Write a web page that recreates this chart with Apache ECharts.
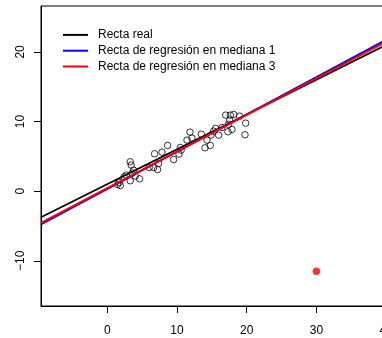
<!DOCTYPE html>
<html>
<head>
<meta charset="utf-8">
<script src="https://cdn.jsdelivr.net/npm/echarts@6/dist/echarts.min.js"></script>
<style>html,body{margin:0;padding:0;background:#fff;overflow:hidden;width:382px;height:338px;}#c{width:414px;height:338px;}</style>
</head>
<body>
<div id="c"></div>
<script>
// observed sample points
var xs = [1.48,1.87,1.72,2.73,2.44,3.30,3.44,3.30,3.78,4.02,4.64,6.03,6.79,6.65,7.22,7.37,7.85,8.66,9.52,10.29,10.48,11.44,11.87,12.15,13.49,14.02,14.31,14.78,14.88,15.26,15.55,15.98,16.46,16.99,17.32,17.66,17.56,17.89,18.13,18.99,19.86,19.76,17.40,10.60,3.60];
var ys = [0.96,0.81,1.25,2.30,2.06,4.22,3.74,1.49,3.02,2.16,1.77,3.40,5.37,3.40,3.11,3.98,5.61,6.56,4.55,5.32,6.28,7.33,8.48,7.62,8.19,6.23,7.33,6.56,8.05,8.62,9.01,8.05,9.15,10.92,8.53,10.92,10.21,8.86,11.02,10.78,9.77,8.10,9.60,5.90,2.60];
// outlier
var outX = [30];
var outY = [-11.5];
// lines: names, intercepts, slopes, colors
var lineNames = ['Recta real','Recta de regresión en mediana 1','Recta de regresión en mediana 3'];
var intercepts = [1.0, 0.30, 0.43];
var slopes = [0.5, 0.536, 0.526];
var lineColors = ['#000000','#0000ff','#ff0000'];
var xTicks = [0,10,20,30,40];
var yTicks = [-10,0,10,20];

var xMin = -9.5, xMax = 44, yMin = -16.5, yMax = 26.6;

var pts = xs.map(function(x,i){return [x, ys[i]];});
var outPts = outX.map(function(x,i){return [x, outY[i]];});

var series = [{
  type:'scatter', data:pts, symbol:'circle', symbolSize:6.5,
  itemStyle:{color:'rgba(0,0,0,0)', borderColor:'#000', borderWidth:1},
  silent:true, z:2
},{
  type:'scatter', data:outPts, symbol:'circle', symbolSize:7.5,
  itemStyle:{color:'#ff0000'}, silent:true, z:2
}];
lineNames.forEach(function(n,i){
  series.push({
    type:'line', name:n, color:lineColors[i],
    data:[[xMin, intercepts[i]+slopes[i]*xMin],[xMax, intercepts[i]+slopes[i]*xMax]],
    showSymbol:false, symbol:'none', clip:true,
    lineStyle:{color:lineColors[i], width:1.9},
    itemStyle:{color:lineColors[i]},
    z:3+i, silent:true, animation:false
  });
});

function minus(v){ return String(v).replace('-', '\u2212'); }

var chart = echarts.init(document.getElementById('c'));
chart.setOption({
  animation:false,
  backgroundColor:'#fff',
  textStyle:{fontFamily:'Liberation Sans, Arial, sans-serif'},
  grid:{left:41, right:0, top:6, bottom:32, show:true, borderColor:'#000', borderWidth:1, backgroundColor:'transparent'},
  legend:{
    data:lineNames, orient:'vertical', left:63, top:27.5, padding:0,
    icon:'rect', itemWidth:25, itemHeight:2, itemGap:1,
    textStyle:{fontSize:12, color:'#000', fontFamily:'Liberation Sans, Arial, sans-serif', padding:[0,0,0,5], lineHeight:14.8},
    selectedMode:false
  },
  xAxis:{
    type:'value', min:xMin, max:xMax,
    splitLine:{show:false},
    axisLine:{show:true, onZero:false, lineStyle:{color:'#000', width:1}},
    axisTick:{show:true, inside:false, length:7, lineStyle:{color:'#000'}, customValues:xTicks},
    axisLabel:{fontSize:12, color:'#000', margin:19, customValues:xTicks, formatter:minus, fontFamily:'Liberation Sans, Arial, sans-serif'}
  },
  yAxis:{
    type:'value', min:yMin, max:yMax,
    splitLine:{show:false},
    axisLine:{show:true, onZero:false, lineStyle:{color:'#000', width:1}},
    axisTick:{show:true, inside:false, length:7, lineStyle:{color:'#000'}, customValues:yTicks},
    axisLabel:{fontSize:12, color:'#000', margin:14, rotate:90, customValues:yTicks, formatter:minus, fontFamily:'Liberation Sans, Arial, sans-serif'}
  },
  series:series
});
</script>
</body>
</html>
